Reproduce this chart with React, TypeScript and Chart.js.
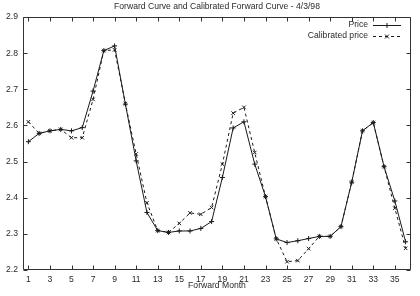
import React, { useEffect, useRef } from "react";
import { Chart, registerables } from "chart.js";

Chart.register(...registerables);

const months = [
  1, 2, 3, 4, 5, 6, 7, 8, 9, 10, 11, 12, 13, 14, 15, 16, 17, 18,
  19, 20, 21, 22, 23, 24, 25, 26, 27, 28, 29, 30, 31, 32, 33, 34, 35, 36,
];
const price = [
  2.555, 2.578, 2.585, 2.589, 2.585, 2.594, 2.695, 2.807, 2.82, 2.659, 2.502, 2.359,
  2.309, 2.304, 2.308, 2.308, 2.315, 2.334, 2.456, 2.593, 2.61, 2.493, 2.403, 2.286,
  2.276, 2.281, 2.287, 2.293, 2.293, 2.32, 2.443, 2.585, 2.608, 2.486, 2.391, 2.278,
];
const calibrated = [
  2.61, 2.578, 2.585, 2.589, 2.566, 2.566, 2.672, 2.807, 2.809, 2.66, 2.521, 2.386,
  2.309, 2.304, 2.329, 2.358, 2.354, 2.373, 2.493, 2.634, 2.65, 2.525, 2.403, 2.286,
  2.223, 2.226, 2.259, 2.293, 2.293, 2.32, 2.443, 2.585, 2.608, 2.486, 2.371, 2.26,
];
const xTickValues = [1, 3, 5, 7, 9, 11, 13, 15, 17, 19, 21, 23, 25, 27, 29, 31, 33, 35];
const yTickValues = [2.2, 2.3, 2.4, 2.5, 2.6, 2.7, 2.8, 2.9];
const seriesLabels = ["Price", "Calibrated price"];
const titleText = "Forward Curve and Calibrated Forward Curve - 4/3/98";
const xAxisTitle = "Forward Month";

const FONT = "'Liberation Sans', Arial, Helvetica, sans-serif";
const TEXT_COLOR = "#2a2a2a";
const LINE_COLOR = "#1a1a1a";

const framePlugin = {
  id: "gnuplotFrame",
  afterDraw(chart: any) {
    const { ctx, chartArea: a, scales } = chart;
    const xs = scales.x;
    const ys = scales.y;
    const L = Math.round(a.left) + 0.5;
    const R = Math.round(a.right) - 0.5;
    const T = Math.round(a.top) + 0.5;
    const B = Math.round(a.bottom) - 0.5;
    ctx.save();
    ctx.strokeStyle = "#333";
    ctx.lineWidth = 1;
    ctx.beginPath();
    ctx.rect(L, T, R - L, B - T);
    ctx.stroke();
    const tl = 4;
    ctx.beginPath();
    for (const v of yTickValues) {
      const y = Math.round(ys.getPixelForValue(v)) + 0.5;
      ctx.moveTo(L, y);
      ctx.lineTo(L + tl, y);
      ctx.moveTo(R, y);
      ctx.lineTo(R - tl, y);
    }
    for (const v of xTickValues) {
      const x = Math.round(xs.getPixelForValue(v)) + 0.5;
      ctx.moveTo(x, B);
      ctx.lineTo(x, B - tl);
      ctx.moveTo(x, T);
      ctx.lineTo(x, T + tl);
    }
    ctx.stroke();

    // titles
    ctx.fillStyle = TEXT_COLOR;
    ctx.font = `8.6px ${FONT}`;
    ctx.textAlign = "center";
    ctx.textBaseline = "middle";
    const cx = (a.left + a.right) / 2;
    ctx.fillText(titleText, cx, 7);
    ctx.fillText(xAxisTitle, cx, 286);

    // legend
    const rows = [24.5, 35.5];
    chart.data.datasets.forEach((ds: any, i: number) => {
      const y = rows[i];
      ctx.fillStyle = TEXT_COLOR;
      ctx.textAlign = "right";
      ctx.fillText(ds.label, 368, y);
      ctx.strokeStyle = ds.borderColor;
      ctx.lineWidth = 1;
      ctx.setLineDash(ds.borderDash || []);
      ctx.beginPath();
      ctx.moveTo(373, Math.round(y) + 0.5);
      ctx.lineTo(401, Math.round(y) + 0.5);
      ctx.stroke();
      ctx.setLineDash([]);
      const mx = 387;
      const my = Math.round(y) + 0.5;
      ctx.beginPath();
      if (ds.pointStyle === "cross") {
        ctx.moveTo(mx - 2.5, my);
        ctx.lineTo(mx + 2.5, my);
        ctx.moveTo(mx, my - 2.5);
        ctx.lineTo(mx, my + 2.5);
      } else {
        ctx.moveTo(mx - 2, my - 2);
        ctx.lineTo(mx + 2, my + 2);
        ctx.moveTo(mx - 2, my + 2);
        ctx.lineTo(mx + 2, my - 2);
      }
      ctx.stroke();
    });
    ctx.restore();
  },
};

export default function App() {
  const ref = useRef<HTMLCanvasElement | null>(null);

  useEffect(() => {
    if (!ref.current) return;
    const chart = new Chart(ref.current, {
      type: "line",
      data: {
        datasets: [
          {
            label: seriesLabels[0],
            data: months.map((m, i) => ({ x: m, y: price[i] })),
            borderColor: LINE_COLOR,
            backgroundColor: LINE_COLOR,
            borderWidth: 1,
            pointStyle: "cross",
            pointRadius: 2.5,
            pointBorderWidth: 1,
            pointBorderColor: LINE_COLOR,
            fill: false,
            tension: 0,
          },
          {
            label: seriesLabels[1],
            data: months.map((m, i) => ({ x: m, y: calibrated[i] })),
            borderColor: LINE_COLOR,
            backgroundColor: LINE_COLOR,
            borderWidth: 1,
            borderDash: [3, 3],
            pointStyle: "crossRot",
            pointRadius: 2.5,
            pointBorderWidth: 1,
            pointBorderColor: LINE_COLOR,
            fill: false,
            tension: 0,
          },
        ],
      },
      plugins: [framePlugin],
      options: {
        responsive: false,
        animation: false,
        layout: { padding: { left: 0, top: 17, right: 9, bottom: 0 } },
        plugins: {
          legend: { display: false },
          title: { display: false },
          tooltip: { enabled: false },
        },
        scales: {
          x: {
            type: "linear",
            min: 0.5,
            max: 36.5,
            grid: { display: false, drawTicks: false },
            border: { display: false },
            afterBuildTicks: (scale: any) => {
              scale.ticks = xTickValues.map((v) => ({ value: v }));
            },
            afterFit: (scale: any) => {
              scale.height = 26;
            },
            ticks: {
              autoSkip: false,
              maxRotation: 0,
              padding: 4,
              color: TEXT_COLOR,
              font: { family: FONT, size: 8.6 },
              callback: (v: any) => String(v),
            },
          },
          y: {
            type: "linear",
            min: 2.2,
            max: 2.9,
            grid: { display: false, drawTicks: false },
            border: { display: false },
            afterBuildTicks: (scale: any) => {
              scale.ticks = yTickValues.map((v) => ({ value: v }));
            },
            afterFit: (scale: any) => {
              scale.width = 23;
            },
            ticks: {
              padding: 5,
              color: TEXT_COLOR,
              font: { family: FONT, size: 8.6 },
              callback: (v: any) => Number(v).toFixed(1),
            },
          },
        },
      },
    });
    return () => chart.destroy();
  }, []);

  return (
    <div style={{ position: "absolute", left: 0, top: 0, width: 420, height: 296, background: "#fff" }}>
      <canvas ref={ref} width={420} height={296} style={{ display: "block" }} />
    </div>
  );
}
